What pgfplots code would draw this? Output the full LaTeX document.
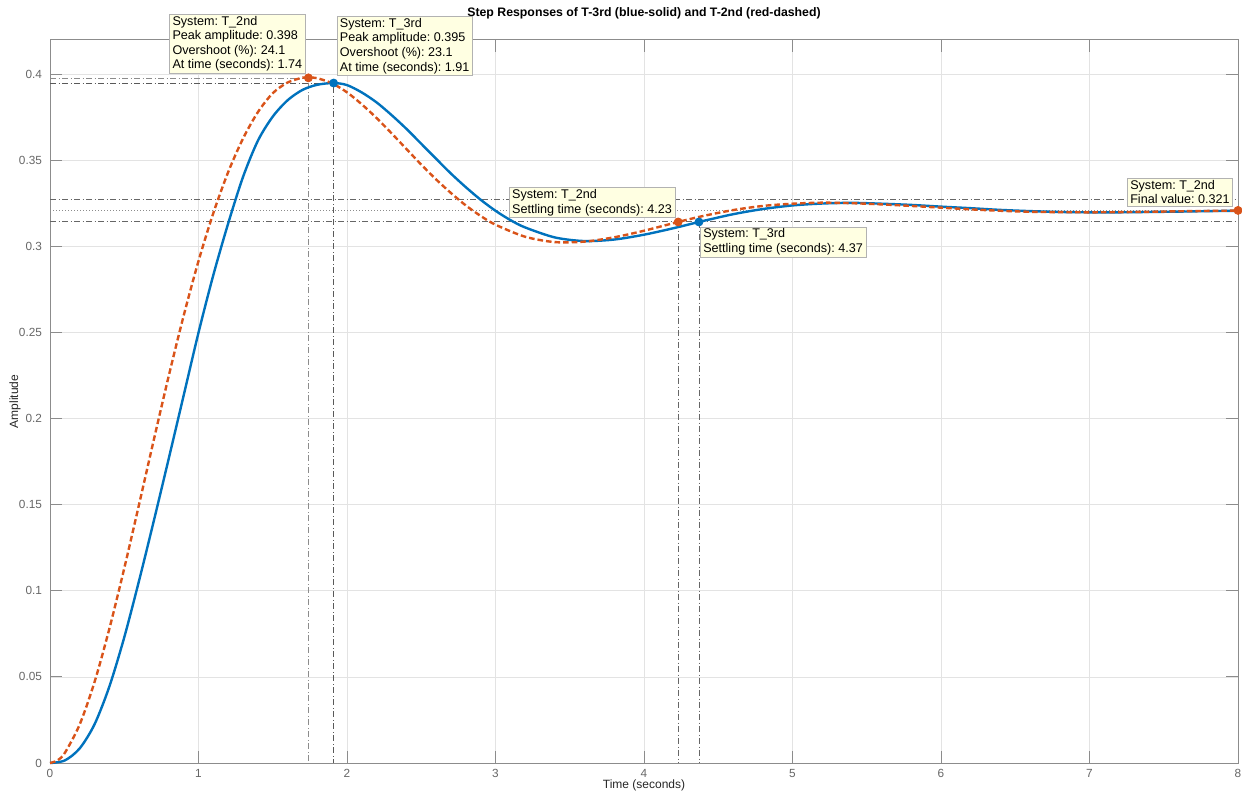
\documentclass[border=0pt]{standalone}
\usepackage{fontspec}
\setmainfont{Liberation Sans}
\usepackage{pgfplots}
\usepackage{pgfplotstable}
\pgfplotsset{compat=1.18}
\usetikzlibrary{calc}
\definecolor{mblue}{RGB}{0,114,189}
\definecolor{mred}{RGB}{217,83,25}
\definecolor{tipfill}{RGB}{255,255,226}
\frenchspacing

\pgfplotstableread{
t v
0 0
0.05 0.0015
0.1 0.0059
0.2 0.0224
0.3 0.0471
0.4 0.0781
0.5 0.1131
0.6 0.1503
0.7 0.1881
0.8 0.2250
0.9 0.2598
1.0 0.2916
1.1 0.3195
1.2 0.3433
1.3 0.3628
1.4 0.3781
1.5 0.3891
1.6 0.3953
1.7 0.3981
1.74 0.3983
1.8 0.3978
1.9 0.3948
2.0 0.3896
2.1 0.3826
2.2 0.3746
2.3 0.3658
2.4 0.3567
2.5 0.3476
2.6 0.3390
2.7 0.3311
2.8 0.3239
2.9 0.3178
3.0 0.3127
3.2 0.3057
3.4 0.3026
3.6 0.3029
3.8 0.3054
4.0 0.3092
4.23 0.3143
4.4 0.3178
4.6 0.3212
4.8 0.3236
5.0 0.3249
5.2 0.3255
5.4 0.3252
5.6 0.3245
5.8 0.3236
6.0 0.3226
6.2 0.3216
6.4 0.3208
6.6 0.3202
6.8 0.3200
7.0 0.3199
7.2 0.3200
7.4 0.3202
7.6 0.3205
7.8 0.3207
8.0 0.3209
}\tsecond

\pgfplotstableread{
t v
0 0
0.1 0.0015
0.2 0.0085
0.3 0.0225
0.4 0.0445
0.5 0.0730
0.6 0.1060
0.7 0.1410
0.8 0.1770
0.9 0.2135
1.0 0.2500
1.1 0.2835
1.2 0.3135
1.3 0.3405
1.4 0.3615
1.5 0.3755
1.6 0.3850
1.7 0.3910
1.8 0.3940
1.91 0.3950
2.0 0.3938
2.1 0.3895
2.2 0.3837
2.3 0.3764
2.4 0.3684
2.5 0.3597
2.6 0.3510
2.7 0.3424
2.8 0.3345
2.9 0.3272
3.0 0.3208
3.1 0.3154
3.2 0.3111
3.4 0.3053
3.6 0.3032
3.8 0.3041
4.0 0.3069
4.2 0.3107
4.37 0.3143
4.6 0.3188
4.8 0.3218
5.0 0.3239
5.2 0.3250
5.4 0.3254
5.6 0.3249
5.8 0.3242
6.0 0.3232
6.2 0.3223
6.4 0.3213
6.6 0.3206
6.8 0.3201
7.0 0.3199
7.2 0.3199
7.4 0.3201
7.6 0.3203
7.8 0.3206
8.0 0.3208
}\tthird

\begin{document}
\begin{tikzpicture}[
  tip/.style={draw=black!30, fill=tipfill, line width=0.3pt,
    font=\fontsize{6.3}{7.3}\selectfont, align=left, text=black,
    inner xsep=1.5pt, inner ysep=1pt},
  refl/.style={line width=0.35pt, dash pattern=on 3pt off 1.3pt on 0.4pt off 1.3pt}
]
\begin{axis}[name=ax, scale only axis, width=594pt, height=361.5pt,
  xmin=0, xmax=8, ymin=0, ymax=0.42,
  xtick={0,1,2,3,4,5,6,7,8},
  xticklabels={0,1,2,3,4,5,6,7,8},
  ytick={0,0.05,0.1,0.15,0.2,0.25,0.3,0.35,0.4},
  yticklabels={0,0.05,0.1,0.15,0.2,0.25,0.3,0.35,0.4},
  grid=major, major grid style={draw=black!11, line width=0.4pt},
  axis line style={draw=black!45, line width=0.5pt},
  tick style={draw=black!45, line width=0.5pt},
  major tick length=6pt, tick align=inside,
  ticklabel style={font=\fontsize{5.9}{6.8}\selectfont, text=black!60},
  xticklabel style={anchor=base, yshift=-7pt},
  yticklabel style={anchor=east, xshift=-0.5pt},
  /pgf/number format/assume math mode=true,
  xlabel={Time (seconds)}, ylabel={Amplitude},
  label style={font=\fontsize{6}{7}\selectfont, text=black!85},
  xlabel style={at={(axis description cs:0.5,0)}, anchor=base, yshift=-12.6pt},
  ylabel style={at={(axis description cs:-0.0295,0.5)}, anchor=center},
  clip=false,
]
% reference lines
\addplot[refl, draw=black!45] coordinates {(0,0.398) (1.74,0.398) (1.74,0)};
\addplot[refl, draw=black!65] coordinates {(0,0.395) (1.91,0.395) (1.91,0)};
\addplot[refl, draw=black!60] coordinates {(4.23,0.3143) (4.23,0)};
\addplot[refl, draw=black!60] coordinates {(4.37,0.3143) (4.37,0)};
\addplot[refl, draw=black!60] coordinates {(0,0.3274) (8,0.3274)};
\addplot[refl, draw=black!60] coordinates {(0,0.3146) (8,0.3146)};
\addplot[draw=black!45, line width=0.35pt, dash pattern=on 0.5pt off 1pt] coordinates {(0,0.321) (8,0.321)};
% curves
\addplot[mblue, line width=1.2pt, smooth, line join=round] table[x=t, y=v] {\tthird};
\addplot[mred, line width=1.2pt, smooth, dash pattern=on 2.8pt off 1.5pt] table[x=t, y=v] {\tsecond};
% markers
\addplot[only marks, mark=*, mark size=2pt, color=mblue, mark options={fill=mblue, draw=mblue}] coordinates {(1.91,0.395) (4.37,0.3143)};
\addplot[only marks, mark=*, mark size=2pt, color=mred, mark options={fill=mred, draw=mred}] coordinates {(1.74,0.398) (4.23,0.3143) (8,0.321)};
% title
\node[anchor=base, yshift=11.5pt, font=\bfseries\fontsize{6.15}{7}\selectfont, inner sep=0pt] at (rel axis cs:0.5,1)
  {Step Responses of T-3rd (blue-solid) and T-2nd (red-dashed)};
% data tips
\node[tip, anchor=south east, xshift=-1.5pt, yshift=2pt] at (axis cs:1.74,0.398)
  {System: T\_2nd\\Peak amplitude: 0.398\\Overshoot (\%): 24.1\\At time (seconds): 1.74};
\node[tip, anchor=south west, xshift=1.5pt, yshift=3.5pt] at (axis cs:1.91,0.395)
  {System: T\_3rd\\Peak amplitude: 0.395\\Overshoot (\%): 23.1\\At time (seconds): 1.91};
\node[tip, anchor=south east, xshift=-1.5pt, yshift=2pt] at (axis cs:4.23,0.3143)
  {System: T\_2nd\\Settling time (seconds): 4.23};
\node[tip, anchor=north west, xshift=0.5pt, yshift=-2.3pt] at (axis cs:4.37,0.3143)
  {System: T\_3rd\\Settling time (seconds): 4.37};
\node[tip, anchor=south east, xshift=-2.5pt, yshift=2pt] at (axis cs:8,0.321)
  {System: T\_2nd\\Final value: 0.321};
\end{axis}
\pgfresetboundingbox
\path ($(ax.south west)+(-25pt,-14pt)$) rectangle ($(ax.north east)+(2pt,20pt)$);
\end{tikzpicture}
\end{document}
